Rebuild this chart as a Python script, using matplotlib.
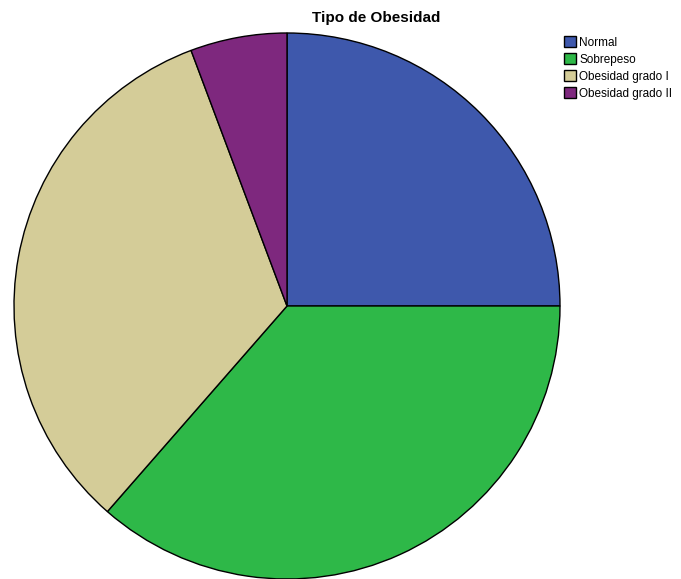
import matplotlib.pyplot as plt

plt.rcParams["font.family"] = ["Liberation Sans", "DejaVu Sans"]

# obesity categories and counts
categories = ["Normal", "Sobrepeso", "Obesidad grado I", "Obesidad grado II"]
counts = [35, 51, 46, 8]
colors = ["#3e58ac", "#2eb848", "#d4cc98", "#7e287e"]

fig = plt.figure(figsize=(6.81, 5.79), dpi=100)
ax = fig.add_axes([14 / 681, 0.0, 546 / 681, 546 / 579])

wedges, _ = ax.pie(
    counts,
    colors=colors,
    startangle=90,
    counterclock=False,
    radius=1.0,
    wedgeprops=dict(edgecolor="black", linewidth=1.0),
)
ax.set_xlim(-1, 1)
ax.set_ylim(-1, 1)
ax.set_aspect("equal")
ax.axis("off")

fig.text(376 / 681, 1 - 18 / 579, "Tipo de Obesidad", ha="center", va="center",
         fontsize=11, fontweight="bold")

fig.legend(
    wedges,
    categories,
    loc="upper left",
    bbox_to_anchor=(556 / 681, 1 - 28 / 579),
    frameon=False,
    fontsize=8.5,
    handlelength=1.0,
    handleheight=1.0,
    handletextpad=0.25,
    labelspacing=0.4,
    borderpad=0.2,
)

fig.savefig("out.png", dpi=100)
